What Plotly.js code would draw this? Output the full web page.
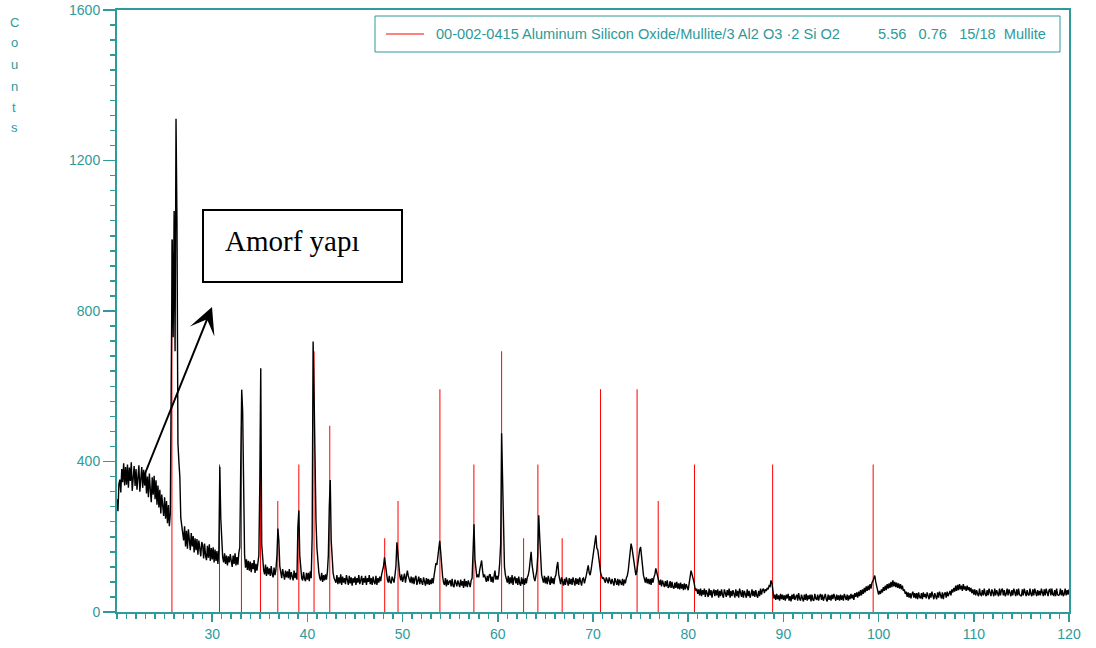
<!DOCTYPE html>
<html>
<head>
<meta charset="utf-8">
<script src="https://cdn.plot.ly/plotly-3.0.1.min.js"></script>
<style>html,body{margin:0;padding:0;background:#fff;}#chart{width:1096px;height:648px;}</style>
</head>
<body>
<div id="chart"></div>
<script>
// ---- Data ----
// XRD scan: 2-theta from 20 to 120 deg, instrument step 0.1 deg
const scanStart = 20;
const scanStep = 0.1;
const counts = [
300,268,340,352,318,380,345,395,336,385,
338,392,330,384,348,398,322,375,388,335,
380,325,372,390,320,368,385,330,378,336,
372,315,360,305,368,325,292,358,312,362,
300,350,285,336,278,325,262,312,272,255,
305,248,295,236,284,228,262,710,990,730,
1066,693,1311,1036,449,400,360,250,225,205,
190,228,174,216,168,220,182,164,210,174,
202,158,196,164,194,152,190,160,148,186,
178,142,182,150,138,176,144,180,136,170,
140,172,132,166,136,162,128,165,386,250,
178,146,132,156,128,150,124,148,132,154,
136,120,150,128,156,124,146,126,158,172,
396,591,533,226,152,118,140,112,136,110,
134,106,130,114,138,104,128,110,134,150,
343,648,180,132,112,100,126,96,120,100,
116,96,122,100,92,118,98,114,150,222,
190,122,100,90,114,94,86,110,92,108,
90,114,86,106,92,84,110,90,104,86,
226,270,150,112,90,84,106,88,82,104,
86,104,82,108,90,200,719,583,330,244,
170,128,106,90,84,104,80,98,84,100,
86,106,150,280,351,190,128,104,90,84,
78,98,74,92,76,100,72,94,78,90,
74,98,80,72,96,76,92,70,90,78,
94,72,90,78,98,74,84,96,72,90,
78,96,72,90,80,98,74,90,72,94,
80,74,96,72,90,78,94,82,100,112,
122,145,124,98,86,78,96,80,76,94,
84,78,98,122,185,150,116,98,84,100,
80,96,102,78,94,110,96,84,78,94,
76,92,74,90,96,72,88,94,74,90,
80,72,92,76,70,90,74,88,72,86,
74,90,76,95,110,130,125,150,172,189,
160,120,95,78,72,90,68,86,72,80,
84,68,88,70,66,86,72,68,84,70,
66,86,70,82,64,88,68,82,66,84,
70,66,84,90,160,233,140,105,92,100,
92,112,126,137,110,92,100,86,80,96,
82,98,100,80,94,78,100,110,86,96,
86,100,130,180,475,346,200,120,98,86,
78,96,74,92,76,98,72,90,94,76,
90,72,94,76,70,92,74,88,72,90,
76,92,98,112,130,160,125,100,90,82,
98,110,150,257,200,125,100,88,78,96,
76,92,74,96,78,72,94,76,90,74,
92,98,120,133,100,80,74,92,78,70,
88,72,92,76,70,90,74,88,72,92,
76,70,90,74,88,72,92,76,70,88,
90,76,94,98,112,124,104,98,112,130,
140,160,176,204,170,165,146,118,104,96,
88,92,86,78,92,80,76,92,78,74,
88,76,70,90,78,72,88,70,86,76,
72,88,70,86,76,90,96,110,130,160,
182,170,150,128,108,98,108,130,150,165,
173,148,118,98,88,78,92,76,88,74,
88,72,90,78,92,100,116,104,94,86,
72,86,68,84,70,66,82,68,84,64,
68,82,64,80,66,62,78,64,80,62,
76,60,78,62,74,58,76,60,74,62,
58,76,90,110,100,92,80,66,56,62,
48,60,44,62,42,58,46,62,40,58,
46,40,62,44,58,38,54,60,42,58,
44,60,38,56,42,60,46,38,60,44,
40,58,44,62,38,56,42,58,46,38,
60,42,56,38,62,44,40,58,38,56,
44,38,60,42,56,38,46,60,42,56,
40,58,44,38,56,42,62,46,58,62,
50,60,56,64,60,70,68,84,76,54,
36,46,32,48,34,44,30,48,34,46,
32,44,30,46,36,48,30,42,28,46,
34,48,32,40,46,30,50,36,30,46,
38,28,46,32,48,30,44,34,46,28,
46,32,30,48,36,32,46,30,42,48,
32,46,30,42,48,34,28,46,32,44,
30,46,34,48,38,30,46,32,44,30,
46,32,44,30,48,36,32,46,30,44,
34,48,36,46,32,50,40,52,38,54,
42,58,44,60,48,64,52,68,56,70,
58,74,62,78,82,90,97,80,66,54,
46,56,48,60,52,66,56,70,58,74,
62,76,64,80,66,84,68,80,66,78,
64,76,62,74,60,70,56,60,48,54,
40,52,38,50,36,48,54,38,50,36,
50,34,52,40,36,50,34,52,40,48,
36,52,40,34,50,38,54,40,34,50,
40,34,52,38,54,42,36,52,34,48,
52,38,54,42,50,56,44,60,52,64,
54,70,56,72,58,74,60,70,56,74,
60,68,56,70,58,66,54,64,50,60,
46,60,44,58,48,42,62,46,44,58,
44,62,48,42,58,44,62,46,42,60,
48,42,62,44,58,48,42,62,44,58,
62,44,58,42,48,62,44,60,46,42,
58,44,62,48,42,60,44,62,46,44,
42,60,44,62,48,42,58,46,44,62,
48,42,60,44,62,46,42,58,44,56,
44,62,46,42,60,44,62,48,42,58,
60,44,62,46,44,58,42,62,46,44,
46,62,44,58,42,48,62,44,58,46,
60
];
// Reference pattern 00-002-0415 Mullite: stick positions and heights
const refPos = [25.77,30.77,33.07,35.07,36.89,39.10,40.70,42.35,48.12,49.52,53.92,57.49,60.40,62.71,64.21,66.76,70.79,74.63,76.85,80.66,88.87,99.43];
const refInt = [990,392,495,592,295,392,693,495,196,295,592,392,693,196,392,196,592,592,295,392,392,392];
const xTickVals = [30,40,50,60,70,80,90,100,110,120];
const yTickVals = [0,400,800,1200,1600];
const yLabelLetters = ['C','o','u','n','t','s'];
const legendText = '00-002-0415 Aluminum Silicon Oxide/Mullite/3 Al2 O3 \u00b72 Si O2';
const legendStats = '5.56\u00a0\u00a0\u00a00.76\u00a0\u00a0\u00a015/18\u00a0\u00a0Mullite';
const boxText = 'Amorf yapı';

// ---- Build traces ----
const scanX = counts.map((_, i) => +(scanStart + i * scanStep).toFixed(2));
const stickX = [], stickY = [];
refPos.forEach((p, i) => { stickX.push(p, p, null); stickY.push(0, refInt[i], null); });

const TEAL = '#2e9a9a';
const W = 1096, H = 648, ML = 117, MR = 27, MT = 10, MB = 36;
const PW = W - ML - MR, PH = H - MT - MB;
const px = v => (v - ML) / PW;
const py = v => (H - MB - v) / PH;

const annotations = [];
const yLetterPos = [22, 43, 64, 86, 107, 128];
yLabelLetters.forEach((ch, i) => annotations.push({
  xref: 'paper', yref: 'paper', x: px(14), y: py(yLetterPos[i]), text: ch, showarrow: false,
  xanchor: 'center', yanchor: 'middle', font: {family: 'Liberation Sans, Arial', size: 13, color: TEAL}
}));
annotations.push({xref: 'paper', yref: 'paper', x: px(434), y: py(34), text: legendText, showarrow: false,
  xanchor: 'left', yanchor: 'middle', font: {family: 'Liberation Sans, Arial', size: 14.6, color: TEAL}});
annotations.push({xref: 'paper', yref: 'paper', x: px(1048), y: py(34), text: legendStats, showarrow: false,
  xanchor: 'right', yanchor: 'middle', font: {family: 'Liberation Sans, Arial', size: 14.6, color: TEAL}});
annotations.push({xref: 'paper', yref: 'paper', x: px(223), y: py(241), text: boxText, showarrow: false,
  xanchor: 'left', yanchor: 'middle', font: {family: 'Liberation Serif, Times New Roman', size: 29, color: '#000'}});
annotations.push({xref: 'paper', yref: 'paper', x: px(212), y: py(307), text: '', showarrow: true,
  ax: 142 - 212, ay: 481 - 307, arrowhead: 3, arrowsize: 2.2, arrowwidth: 2, arrowcolor: '#000', standoff: 0});

const shapes = [
  {type: 'rect', xref: 'paper', yref: 'paper', x0: px(375), x1: px(1060), y0: py(52), y1: py(16), line: {color: TEAL, width: 1}},
  {type: 'line', xref: 'paper', yref: 'paper', x0: px(386), x1: px(424), y0: py(34), y1: py(34), line: {color: '#ff0000', width: 1}},
  {type: 'rect', xref: 'paper', yref: 'paper', x0: px(203), x1: px(402), y0: py(282), y1: py(210), line: {color: '#000', width: 2}}
];

const data = [
  {x: stickX, y: stickY, type: 'scatter', mode: 'lines', line: {color: '#ff0000', width: 1}, hoverinfo: 'skip'},
  {x: scanX, y: counts, type: 'scatter', mode: 'lines', line: {color: '#000000', width: 1.4}}
];

const axisFont = {family: 'Liberation Sans, Arial', size: 14, color: TEAL};
const layout = {
  width: W, height: H, margin: {l: ML, r: MR, t: MT, b: MB, pad: 0},
  paper_bgcolor: '#fff', plot_bgcolor: '#fff', showlegend: false,
  xaxis: {range: [20, 120], tickmode: 'array', tickvals: xTickVals, ticks: 'outside', ticklen: 8, tickwidth: 1.5,
    tickcolor: TEAL, showline: true, linecolor: TEAL, linewidth: 2, mirror: true, showgrid: false, zeroline: false,
    tickfont: axisFont, minor: {dtick: 1, ticks: 'outside', ticklen: 5, tickwidth: 1.5, tickcolor: TEAL, showgrid: false}},
  yaxis: {range: [0, 1600], tickmode: 'array', tickvals: yTickVals, ticks: 'outside', ticklen: 12, tickwidth: 1.5,
    tickcolor: TEAL, showline: true, linecolor: TEAL, linewidth: 2, mirror: true, showgrid: false, zeroline: false,
    tickfont: axisFont, minor: {dtick: 40, ticks: 'outside', ticklen: 5, tickwidth: 1.5, tickcolor: TEAL, showgrid: false}},
  annotations: annotations, shapes: shapes
};
if (counts.length !== 1001) { console.error('counts length ' + counts.length); }
Plotly.newPlot('chart', data, layout, {staticPlot: true, displayModeBar: false});
</script>
</body>
</html>
